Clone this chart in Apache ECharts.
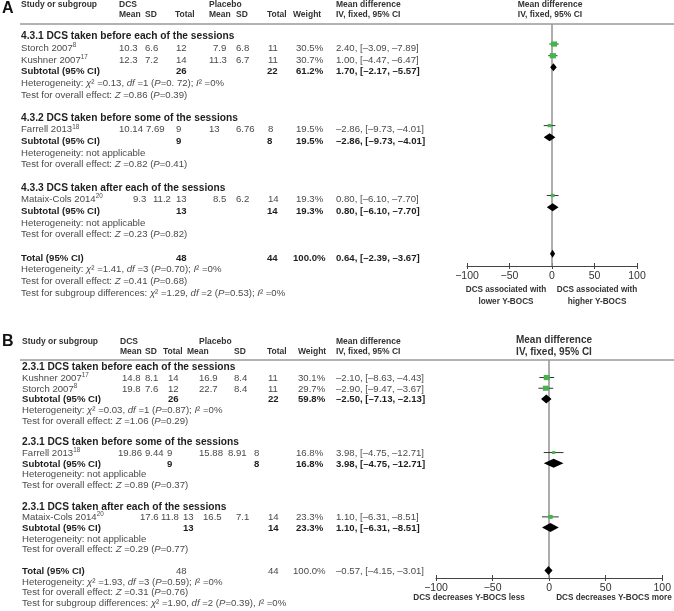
<!DOCTYPE html>
<html><head><meta charset="utf-8">
<script src="https://cdn.jsdelivr.net/npm/echarts@6/dist/echarts.min.js"></script>
<style>html,body{margin:0;padding:0;background:#fff}#c{width:674px;height:611px}</style>
</head><body><div id="c"></div><script>
// ================= DATA: panel A =================
const subgroupTitlesA = ['4.3.1 DCS taken before each of the sessions', '4.3.2 DCS taken before some of the sessions', '4.3.3 DCS taken after each of the sessions'];
const studiesA = ['Storch 2007', 'Kushner 2007', 'Farrell 2013', 'Mataix-Cols 2014'];
const refsA = ['8', '17', '18', '20'];
const studyGroupA = [0, 0, 1, 2];
const dcsMeanA = [10.3, 12.3, 10.14, 9.3];
const dcsSdA = [6.6, 7.2, 7.69, 11.2];
const dcsNA = [12, 14, 9, 13];
const plMeanA = [7.9, 11.3, 13, 8.5];
const plSdA = [6.8, 6.7, 6.76, 6.2];
const plNA = [11, 11, 8, 14];
const weightA = [30.5, 30.7, 19.5, 19.3];
const mdA = [2.40, 1.00, -2.86, 0.80];
const loA = [-3.09, -4.47, -9.73, -6.10];
const hiA = [7.89, 6.47, 4.01, 7.70];
const subDcsNA = [26, 9, 13];
const subPlNA = [22, 8, 14];
const subWeightA = [61.2, 19.5, 19.3];
const subMdA = [1.70, -2.86, 0.80];
const subLoA = [-2.17, -9.73, -6.10];
const subHiA = [5.57, 4.01, 7.70];
const subHetA = ['χ² =0.13, df =1 (P=0. 72); I² =0%', 'not applicable', 'not applicable'];
const subZA = ['0.86', '0.82', '0.23'];
const subZPA = ['0.39', '0.41', '0.82'];
const totalA = { dcsN: 48, plN: 44, weight: 100.0, md: 0.64, lo: -2.39, hi: 3.67 };
const totalHetA = 'χ² =1.41, df =3 (P=0.70); I² =0%';
const totalZA = '0.41', totalZPA = '0.68';
const subgroupDiffA = 'χ² =1.29, df =2 (P=0.53); I² =0%';
const axisLabelsA = [['DCS associated with', 'lower Y-BOCS'], ['DCS associated with', 'higher Y-BOCS']];

// ================= DATA: panel B =================
const subgroupTitlesB = ['2.3.1 DCS taken before each of the sessions', '2.3.1 DCS taken before some of the sessions', '2.3.1 DCS taken after each of the sessions'];
const studiesB = ['Kushner 2007', 'Storch 2007', 'Farrell 2013', 'Mataix-Cols 2014'];
const refsB = ['17', '8', '18', '20'];
const studyGroupB = [0, 0, 1, 2];
const dcsMeanB = [14.8, 19.8, 19.86, 17.6];
const dcsSdB = [8.1, 7.6, 9.44, 11.8];
const dcsNB = [14, 12, 9, 13];
const plMeanB = [16.9, 22.7, 15.88, 16.5];
const plSdB = [8.4, 8.4, 8.91, 7.1];
const plNB = [11, 11, 8, 14];
const weightB = [30.1, 29.7, 16.8, 23.3];
const mdB = [-2.10, -2.90, 3.98, 1.10];
const loB = [-8.63, -9.47, -4.75, -6.31];
const hiB = [4.43, 3.67, 12.71, 8.51];
const subDcsNB = [26, 9, 13];
const subPlNB = [22, 8, 14];
const subWeightB = [59.8, 16.8, 23.3];
const subMdB = [-2.50, 3.98, 1.10];
const subLoB = [-7.13, -4.75, -6.31];
const subHiB = [2.13, 12.71, 8.51];
const subHetB = ['χ² =0.03, df =1 (P=0.87); I² =0%', 'not applicable', 'not applicable'];
const subZB = ['1.06', '0.89', '0.29'];
const subZPB = ['0.29', '0.37', '0.77'];
const totalB = { dcsN: 48, plN: 44, weight: 100.0, md: -0.57, lo: -4.15, hi: 3.01 };
const totalHetB = 'χ² =1.93, df =3 (P=0.59); I² =0%';
const totalZB = '0.31', totalZPB = '0.76';
const subgroupDiffB = 'χ² =1.90, df =2 (P=0.39), I² =0%';
const axisLabelsB = [['DCS decreases Y-BOCS less'], ['DCS decreases Y-BOCS more']];

const xTicks = [-100, -50, 0, 50, 100];

// ================= LAYOUT / STYLE =================
const FONT = "'Liberation Sans', Arial, Helvetica, sans-serif";
const C_TEXT = '#4a4a4a', C_BOLD = '#1e1e1e', C_HEAD = '#333';
const GREEN = '#43b54b';
const DASH = '–';
const BODY = 9.6, SECTION = 10.2, HEAD = 8.5;

const panels = [
  {
    letter: 'A', letterY: 9,
    titles: subgroupTitlesA, studies: studiesA, refs: refsA, group: studyGroupA,
    dcsMean: dcsMeanA, dcsSd: dcsSdA, dcsN: dcsNA, plMean: plMeanA, plSd: plSdA, plN: plNA,
    weight: weightA, md: mdA, lo: loA, hi: hiA,
    subDcsN: subDcsNA, subPlN: subPlNA, subWeight: subWeightA, subMd: subMdA, subLo: subLoA, subHi: subHiA,
    subHet: subHetA, subZ: subZA, subZP: subZPA,
    total: totalA, totalHet: totalHetA, totalZ: totalZA, totalZP: totalZPA, subgroupDiff: subgroupDiffA,
    axisLabels: axisLabelsA,
    layout: {
      text0: 36.6, mark0: 32.4, h: 11.65,
      head1: 5, head2: 15, ruleY: 24,
      grid: { left: 467, right: 637, top: 24, bottom: 266 },
      cols: { name: 21, dcsMean: 119, dcsSd: 145, dcsN: 176, plMean: 209, plSd: 236, plN: 268, weight: 296, ci: 336 },
      studyOverride: { 0: { plMean: 213 }, 2: { dcsSd: 146 }, 3: { dcsMean: 133, dcsSd: 153, plMean: 213 } },
      subOverride: { 0: { plN: 267 }, 1: { plN: 267 }, 2: { plN: 267 } },
      totalCols: { dcsN: 176, plN: 267, weight: 293 },
      totalBold: true,
      headers: [['Study or subgroup', 21, 1], ['DCS', 119, 1], ['Placebo', 209, 1], ['Mean', 119, 2], ['SD', 145, 2], ['Total', 175, 2],
                ['Mean', 209, 2], ['SD', 236, 2], ['Total', 267, 2], ['Weight', 293, 2], ['Mean difference', 336, 1], ['IV, fixed, 95% CI', 336, 2]],
      rightHead: { x: 550, y1: 5, y2: 15, size: 8.5 },
      diamondHalf: 4,
      axisLabelY: [290, 302], axisLabelX: [506, 597]
    }
  },
  {
    letter: 'B', letterY: 342,
    titles: subgroupTitlesB, studies: studiesB, refs: refsB, group: studyGroupB,
    dcsMean: dcsMeanB, dcsSd: dcsSdB, dcsN: dcsNB, plMean: plMeanB, plSd: plSdB, plN: plNB,
    weight: weightB, md: mdB, lo: loB, hi: hiB,
    subDcsN: subDcsNB, subPlN: subPlNB, subWeight: subWeightB, subMd: subMdB, subLo: subLoB, subHi: subHiB,
    subHet: subHetB, subZ: subZB, subZP: subZPB,
    total: totalB, totalHet: totalHetB, totalZ: totalZB, totalZP: totalZPB, subgroupDiff: subgroupDiffB,
    axisLabels: axisLabelsB,
    layout: {
      text0: 367.5, mark0: 366.8, h: 10.72,
      head1: 342, head2: 352, ruleY: 360,
      grid: { left: 436, right: 668, top: 360, bottom: 578 },
      cols: { name: 22, dcsMean: 122, dcsSd: 145, dcsN: 168, plMean: 199, plSd: 234, plN: 268, weight: 298, ci: 336 },
      studyOverride: { 2: { dcsMean: 118, dcsSd: 145, dcsN: 167, plSd: 228, plN: 254, weight: 296 },
                       3: { dcsMean: 140, dcsSd: 161, dcsN: 183, plMean: 203, plSd: 236, weight: 296 } },
      subOverride: { 1: { dcsN: 167, plN: 254, weight: 296 }, 2: { dcsN: 183, weight: 296 } },
      totalCols: { dcsN: 176, plN: 268, weight: 293 },
      totalBold: false,
      headers: [['Study or subgroup', 22, 1], ['DCS', 120, 1], ['Placebo', 199, 1], ['Mean', 120, 2], ['SD', 145, 2], ['Total', 163, 2],
                ['Mean', 187, 2], ['SD', 234, 2], ['Total', 267, 2], ['Weight', 298, 2], ['Mean difference', 336, 1], ['IV, fixed, 95% CI', 336, 2]],
      rightHead: { x: 554, y1: 340, y2: 352, size: 10 },
      diamondHalf: 4.5,
      axisLabelY: [598], axisLabelX: [469, 614]
    }
  }
];

// ================= helpers =================
function fmtSigned(v) { return (v < 0 ? DASH : '') + Math.abs(v).toFixed(2); }
function ciLabel(md, lo, hi) { return fmtSigned(md) + ', [' + fmtSigned(lo) + ', ' + DASH + Math.abs(hi).toFixed(2) + ']'; }
function pct(w) { return w.toFixed(1) + '%'; }
function italicize(s) {
  return s.replace(/χ/g, '{i|χ}').replace(/\bdf\b/g, '{i|df}').replace(/\(P=/g, '({i|P}=').replace(/I²/g, '{i|I}²').replace(/Z =/g, '{i|Z} =');
}

const graphics = [];
function txt(x, y, text, o) {
  o = o || {};
  const size = o.size || BODY;
  const color = o.color || C_TEXT;
  const weight = o.bold ? 'bold' : 'normal';
  graphics.push({
    type: 'text', x: x, y: y, silent: true, z: 10,
    style: {
      text: text, fill: color, fontSize: size, fontFamily: FONT, fontWeight: weight,
      textAlign: o.align || 'left', textVerticalAlign: 'middle',
      align: o.align || 'left', verticalAlign: 'middle',
      lineHeight: Math.round(size * 1.2),
      rich: {
        i: { fontStyle: 'italic', fontSize: size, fontFamily: FONT, fill: color, fontWeight: weight, lineHeight: Math.round(size * 1.2) },
        s: { fontSize: 6.3, fontFamily: FONT, fill: color, verticalAlign: 'top', lineHeight: Math.round(size * 1.2) }
      }
    }
  });
}

const series = [], grids = [], xAxes = [], yAxes = [];

panels.forEach((P, pi) => {
  const L = P.layout;
  const ty = (row) => L.text0 + row * L.h;

  txt(2, P.letterY, P.letter, { size: 16, bold: true, color: '#111' });
  L.headers.forEach(([t, x, r]) => txt(x, r === 1 ? L.head1 : L.head2, t, { size: HEAD, bold: true, color: C_HEAD }));
  txt(L.rightHead.x, L.rightHead.y1, 'Mean difference', { size: L.rightHead.size, bold: true, color: C_HEAD, align: 'center' });
  txt(L.rightHead.x, L.rightHead.y2, 'IV, fixed, 95% CI', { size: L.rightHead.size, bold: true, color: C_HEAD, align: 'center' });
  graphics.push({ type: 'line', silent: true, shape: { x1: 20, y1: L.ruleY, x2: 674, y2: L.ruleY }, style: { stroke: '#666', lineWidth: 1 } });

  const studyRows = [], diamondRows = [];
  let row = 0;
  P.titles.forEach((title, g) => {
    txt(L.cols.name, ty(row), title, { size: SECTION, bold: true, color: C_BOLD });
    row++;
    P.studies.forEach((s, i) => {
      if (P.group[i] !== g) return;
      const c = Object.assign({}, L.cols, L.studyOverride[i] || {});
      const y = ty(row);
      txt(c.name, y, s + '{s|' + P.refs[i] + '}');
      txt(c.dcsMean, y, String(P.dcsMean[i]));
      txt(c.dcsSd, y, String(P.dcsSd[i]));
      txt(c.dcsN, y, String(P.dcsN[i]));
      txt(c.plMean, y, String(P.plMean[i]));
      txt(c.plSd, y, String(P.plSd[i]));
      txt(c.plN, y, String(P.plN[i]));
      txt(c.weight, y, pct(P.weight[i]));
      txt(c.ci, y, ciLabel(P.md[i], P.lo[i], P.hi[i]));
      studyRows.push([row, P.md[i], P.lo[i], P.hi[i], P.weight[i]]);
      row++;
    });
    const c = Object.assign({}, L.cols, L.subOverride[g] || {});
    let y = ty(row);
    const bb = { bold: true, color: C_BOLD };
    txt(c.name, y, 'Subtotal (95% CI)', bb);
    txt(c.dcsN, y, String(P.subDcsN[g]), bb);
    txt(c.plN, y, String(P.subPlN[g]), bb);
    txt(c.weight, y, pct(P.subWeight[g]), bb);
    txt(c.ci, y, ciLabel(P.subMd[g], P.subLo[g], P.subHi[g]), bb);
    diamondRows.push([row, P.subMd[g], P.subLo[g], P.subHi[g]]);
    row++;
    txt(c.name, ty(row), italicize('Heterogeneity: ' + P.subHet[g])); row++;
    txt(c.name, ty(row), italicize('Test for overall effect: Z =' + P.subZ[g] + ' (P=' + P.subZP[g] + ')')); row++;
    row++;
  });
  const tc = Object.assign({}, L.cols, L.totalCols);
  const tb = L.totalBold ? { bold: true, color: C_BOLD } : {};
  let y = ty(row);
  txt(tc.name, y, 'Total (95% CI)', { bold: true, color: C_BOLD });
  txt(tc.dcsN, y, String(P.total.dcsN), tb);
  txt(tc.plN, y, String(P.total.plN), tb);
  txt(tc.weight, y, pct(P.total.weight), tb);
  txt(tc.ci, y, ciLabel(P.total.md, P.total.lo, P.total.hi), tb);
  diamondRows.push([row, P.total.md, P.total.lo, P.total.hi]);
  row++;
  txt(tc.name, ty(row), italicize('Heterogeneity: ' + P.totalHet)); row++;
  txt(tc.name, ty(row), italicize('Test for overall effect: Z =' + P.totalZ + ' (P=' + P.totalZP + ')')); row++;
  txt(tc.name, ty(row), italicize('Test for subgroup differences: ' + P.subgroupDiff)); row++;

  P.axisLabels.forEach((lines, k) => {
    lines.forEach((t, j) => txt(L.axisLabelX[k], L.axisLabelY[j], t, { size: 8.2, bold: true, color: '#333', align: 'center' }));
  });

  const G = L.grid;
  const gh = G.bottom - G.top;
  grids.push({ left: G.left, top: G.top, width: G.right - G.left, height: gh, containLabel: false });
  const baseX = {
    gridIndex: pi, type: 'value', min: xTicks[0], max: xTicks[xTicks.length - 1], interval: xTicks[1] - xTicks[0],
    splitLine: { show: false }
  };
  xAxes.push(Object.assign({}, baseX, {
    position: 'bottom',
    axisLine: { show: true, onZero: false, lineStyle: { color: '#444', width: 1 } },
    axisTick: { show: true, length: 3, lineStyle: { color: '#444', width: 1 } },
    axisLabel: { show: true, margin: 5, fontSize: 10.5, fontFamily: FONT, color: '#333',
      formatter: v => (v < 0 ? '−' : '') + Math.abs(v) }
  }));
  // second axis sharing the scale, moved onto the bottom edge, so ticks cross the axis line
  xAxes.push(Object.assign({}, baseX, {
    position: 'top', offset: -gh,
    axisLine: { show: false, onZero: false },
    axisTick: { show: true, length: 3, lineStyle: { color: '#444', width: 1 } },
    axisLabel: { show: false }
  }));
  yAxes.push({
    gridIndex: pi, type: 'value', inverse: true, show: false,
    min: (G.top - L.mark0) / L.h, max: (G.bottom - L.mark0) / L.h
  });
  const xi = pi * 2;

  series.push({
    type: 'scatter', xAxisIndex: xi, yAxisIndex: pi, data: [], z: 1, silent: true,
    markLine: { silent: true, symbol: 'none', label: { show: false }, animation: false,
      lineStyle: { color: '#999', width: 1.6, type: 'solid' }, data: [{ xAxis: 0 }] }
  });
  series.push({
    type: 'custom', xAxisIndex: xi, yAxisIndex: pi, z: 5, silent: true, animation: false,
    data: studyRows, encode: { x: [1, 2, 3], y: 0 },
    renderItem: (params, api) => {
      const r = api.value(0), md = api.value(1), lo = api.value(2), hi = api.value(3), w = api.value(4);
      const pm = api.coord([md, r]), pl = api.coord([lo, r]), ph = api.coord([hi, r]);
      const sw = w * 0.2, sh = w * 0.17;
      return { type: 'group', children: [
        { type: 'line', shape: { x1: pl[0], y1: pl[1], x2: ph[0], y2: ph[1] }, style: { stroke: '#333', lineWidth: 1 } },
        { type: 'rect', shape: { x: pm[0] - sw / 2, y: pm[1] - sh / 2, width: sw, height: sh }, style: { fill: GREEN } }
      ] };
    }
  });
  const dh = L.diamondHalf;
  series.push({
    type: 'custom', xAxisIndex: xi, yAxisIndex: pi, z: 5, silent: true, animation: false,
    data: diamondRows, encode: { x: [1, 2, 3], y: 0 },
    renderItem: (params, api) => {
      const r = api.value(0), md = api.value(1), lo = api.value(2), hi = api.value(3);
      const pm = api.coord([md, r]), pl = api.coord([lo, r]), ph = api.coord([hi, r]);
      return { type: 'polygon', shape: { points: [[pl[0], pl[1]], [pm[0], pm[1] - dh], [ph[0], ph[1]], [pm[0], pm[1] + dh]] },
        style: { fill: '#000' } };
    }
  });
});

const chart = echarts.init(document.getElementById('c'), null, { renderer: 'canvas' });
chart.setOption({
  animation: false,
  backgroundColor: '#fff',
  grid: grids, xAxis: xAxes, yAxis: yAxes, series: series,
  graphic: { elements: graphics }
});
</script></body></html>
